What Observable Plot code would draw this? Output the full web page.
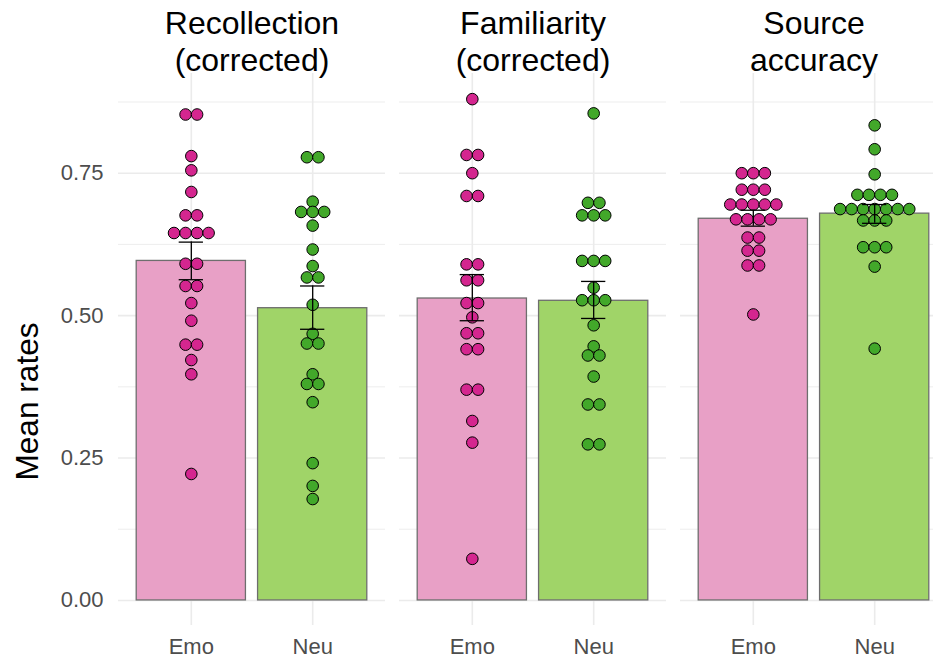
<!DOCTYPE html>
<html>
<head>
<meta charset="utf-8">
<script src="https://cdn.jsdelivr.net/npm/d3@7"></script>
<script src="https://cdn.jsdelivr.net/npm/@observablehq/plot@0.6"></script>
<style>
  html, body { margin: 0; padding: 0; background: #fff; overflow: hidden; }
  #chart svg { display: block; max-width: none !important; }
</style>
</head>
<body>
<div id="chart"></div>
<script>
// ---- data ----
const facets = ["Recollection (corrected)", "Familiarity (corrected)", "Source accuracy"];
const facetTitles = ["Recollection\n(corrected)", "Familiarity\n(corrected)", "Source\naccuracy"];
const conditions = ["Emo", "Neu"];
const yTicks = [0, 0.25, 0.5, 0.75];
const yMinorTicks = [0.125, 0.375, 0.625, 0.875];

const recEmo = [0.853,0.853,0.780,0.755,0.717,0.676,0.676,0.645,0.645,0.645,0.645,0.591,0.591,0.552,0.552,0.522,0.491,0.449,0.449,0.422,0.397,0.222];
const recNeu = [0.778,0.778,0.700,0.682,0.682,0.682,0.658,0.616,0.587,0.567,0.567,0.519,0.468,0.451,0.451,0.397,0.380,0.380,0.348,0.241,0.201,0.178];
const famEmo = [0.880,0.782,0.782,0.750,0.710,0.710,0.590,0.590,0.562,0.562,0.522,0.522,0.497,0.469,0.469,0.441,0.441,0.370,0.370,0.315,0.277,0.073];
const famNeu = [0.855,0.698,0.698,0.676,0.676,0.676,0.596,0.596,0.596,0.549,0.527,0.527,0.527,0.483,0.446,0.430,0.430,0.393,0.344,0.344,0.274,0.274];
const srcEmo = [0.750,0.750,0.750,0.721,0.721,0.721,0.695,0.695,0.695,0.695,0.695,0.669,0.669,0.669,0.669,0.637,0.637,0.614,0.614,0.588,0.588,0.502];
const srcNeu = [0.834,0.792,0.748,0.712,0.712,0.712,0.712,0.687,0.687,0.687,0.687,0.687,0.687,0.687,0.667,0.667,0.667,0.620,0.620,0.620,0.586,0.442];

// bar means and standard-error bounds, per facet [Emo, Neu]
const barMeans = [[0.596, 0.513], [0.530, 0.526], [0.670, 0.679]];
const errLow   = [[0.563, 0.476], [0.491, 0.495], [0.657, 0.662]];
const errHigh  = [[0.629, 0.552], [0.572, 0.560], [0.685, 0.695]];

const pointSets = [[recEmo, recNeu], [famEmo, famNeu], [srcEmo, srcNeu]];

const barFill = {Emo: "#e8a0c6", Neu: "#a0d468"};
const dotFill = {Emo: "#d4268f", Neu: "#42a82a"};

// ---- build tables ----
const bars = [];
facets.forEach((f, i) => conditions.forEach((c, j) => {
  bars.push({f, cond: c, pos: j + 1, mean: barMeans[i][j], lo: errLow[i][j], hi: errHigh[i][j]});
}));

const dotStep = 0.095;   // horizontal stacking step of the dot plot (x units)
const barHalf = 0.45;    // half bar width (x units)
const capHalf = 0.1;     // half error-bar cap width (x units)

const dots = [];
facets.forEach((f, i) => conditions.forEach((c, j) => {
  const groups = d3.group(pointSets[i][j], v => v);
  for (const [v, arr] of groups) {
    const n = arr.length;
    arr.forEach((_, k) => dots.push({f, cond: c, x: j + 1 + (k - (n - 1) / 2) * dotStep, y: v}));
  }
}));

const titleData = facets.map((f, i) => ({f, t: facetTitles[i]}));

const gridColor = "#ebebeb";

const chart = Plot.plot({
  width: 947,
  height: 659,
  marginLeft: 118,
  marginRight: 0,
  marginTop: 73,
  marginBottom: 34,
  style: {fontFamily: "'Liberation Sans', Arial, Helvetica, sans-serif", background: "#fff", maxWidth: "none"},
  fx: {domain: facets, paddingInner: 0.05, paddingOuter: 0, axis: null, label: null},
  x: {domain: [0.4, 2.6], axis: null},
  y: {domain: [-0.044, 0.925], axis: null},
  marks: [
    Plot.ruleY(yMinorTicks, {stroke: gridColor, strokeWidth: 0.9}),
    Plot.ruleY(yTicks, {stroke: gridColor, strokeWidth: 1.6}),
    Plot.ruleX([1, 2], {stroke: gridColor, strokeWidth: 1.6}),
    Plot.rectY(bars, {
      fx: "f",
      x1: d => d.pos - barHalf, x2: d => d.pos + barHalf,
      y1: 0, y2: "mean",
      fill: d => barFill[d.cond],
      stroke: "#6e6e6e", strokeWidth: 1.3
    }),
    Plot.dot(dots, {
      fx: "f", x: "x", y: "y", r: 5.8,
      fill: d => dotFill[d.cond],
      stroke: "#000", strokeWidth: 1
    }),
    Plot.ruleX(bars, {fx: "f", x: "pos", y1: "lo", y2: "hi", stroke: "#000", strokeWidth: 1.3}),
    Plot.ruleY(bars, {fx: "f", y: "lo", x1: d => d.pos - capHalf, x2: d => d.pos + capHalf, stroke: "#000", strokeWidth: 1.3}),
    Plot.ruleY(bars, {fx: "f", y: "hi", x1: d => d.pos - capHalf, x2: d => d.pos + capHalf, stroke: "#000", strokeWidth: 1.3}),
    Plot.axisY(yTicks, {
      tickSize: 0, tickPadding: 15, tickFormat: d3.format(".2f"),
      fontSize: 22, color: "#4d4d4d", label: null
    }),
    Plot.axisX([1, 2], {
      tickSize: 0, tickPadding: 13, tickFormat: d => conditions[d - 1],
      fontSize: 22, color: "#4d4d4d", label: null
    }),
    Plot.text(titleData, {
      fx: "f", text: "t", frameAnchor: "top", lineAnchor: "bottom",
      dy: -3, fontSize: 32, lineHeight: 1.13, fill: "#000"
    }),
    Plot.text([{f: facets[0], t: "Mean rates"}], {
      fx: "f", text: "t", frameAnchor: "left", textAnchor: "middle", rotate: -90,
      dx: -91, dy: 52, fontSize: 31.6, fill: "#000"
    })
  ]
});

document.getElementById("chart").appendChild(chart);
</script>
</body>
</html>
